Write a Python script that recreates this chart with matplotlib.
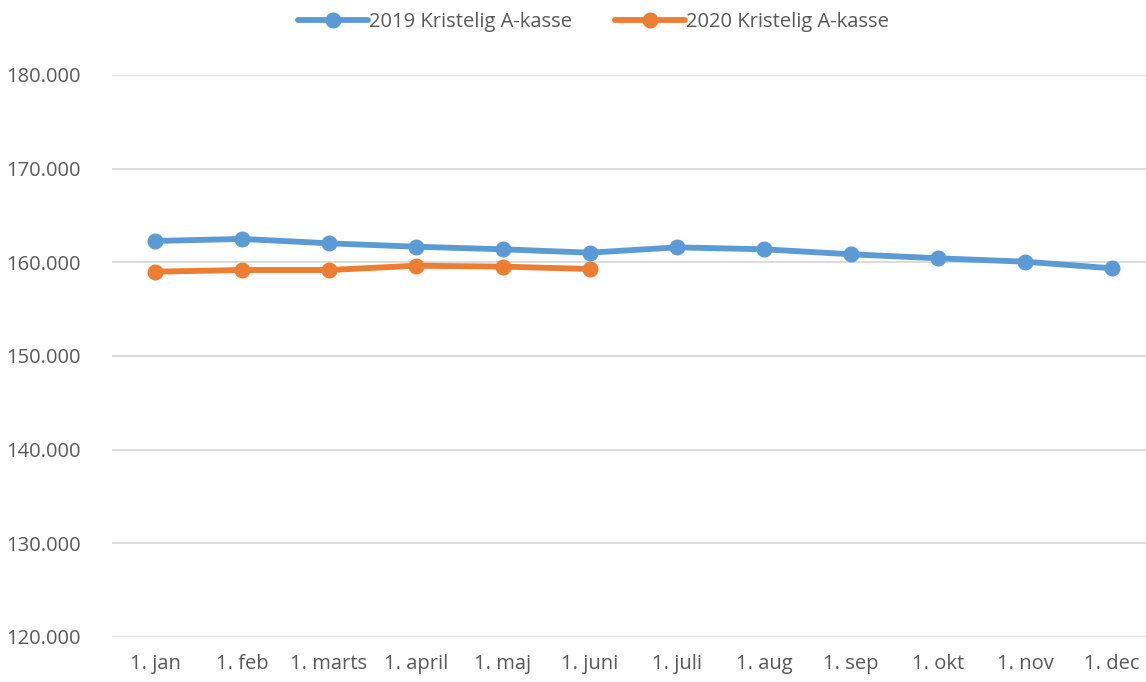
import matplotlib.pyplot as plt
from matplotlib.ticker import FuncFormatter

months = ['1. jan', '1. feb', '1. marts', '1. april', '1. maj', '1. juni',
          '1. juli', '1. aug', '1. sep', '1. okt', '1. nov', '1. dec']
v2019 = [162280, 162500, 162030, 161670, 161390, 161030,
         161600, 161390, 160860, 160430, 160070, 159360]
v2020 = [159000, 159180, 159180, 159640, 159540, 159290]

plt.rcParams['font.family'] = ['Open Sans', 'DejaVu Sans']

fig = plt.figure(figsize=(11.46, 6.82), dpi=100)
ax = fig.add_axes([111.5/1146, 45/682, 1 - 111.5/1146, 562/682])

x = list(range(len(months)))
ax.plot(x, v2019, color='#5b9bd5', lw=4.2, marker='o', ms=10.5,
        label='2019 Kristelig A-kasse', solid_capstyle='round')
ax.plot(x[:len(v2020)], v2020, color='#ed7d31', lw=4.2, marker='o', ms=10.5,
        label='2020 Kristelig A-kasse', solid_capstyle='round')

ax.set_ylim(120000, 180000)
ax.set_yticks(range(120000, 180001, 10000))
ax.yaxis.set_major_formatter(FuncFormatter(lambda v, p: f'{int(v):,}'.replace(',', '.')))
ax.set_xlim(-0.5, 11.5 - 9.5/87)
ax.set_xticks(x)
ax.set_xticklabels(months)

ax.grid(axis='y', color='#d9d9d9', lw=1.3)
ax.set_axisbelow(True)
for s in ax.spines.values():
    s.set_visible(False)
ax.tick_params(length=0, labelsize=14.5, colors='#595959')
ax.tick_params(axis='x', pad=12)
ax.tick_params(axis='y', pad=22)

ax.legend(loc='center', bbox_to_anchor=(0.466, 1 + 53/562), ncol=2, frameon=False,
          fontsize=14.5, labelcolor='#595959', handlelength=3.5, handletextpad=0.05,
          columnspacing=2.1)

fig.savefig('out.png', dpi=100)
